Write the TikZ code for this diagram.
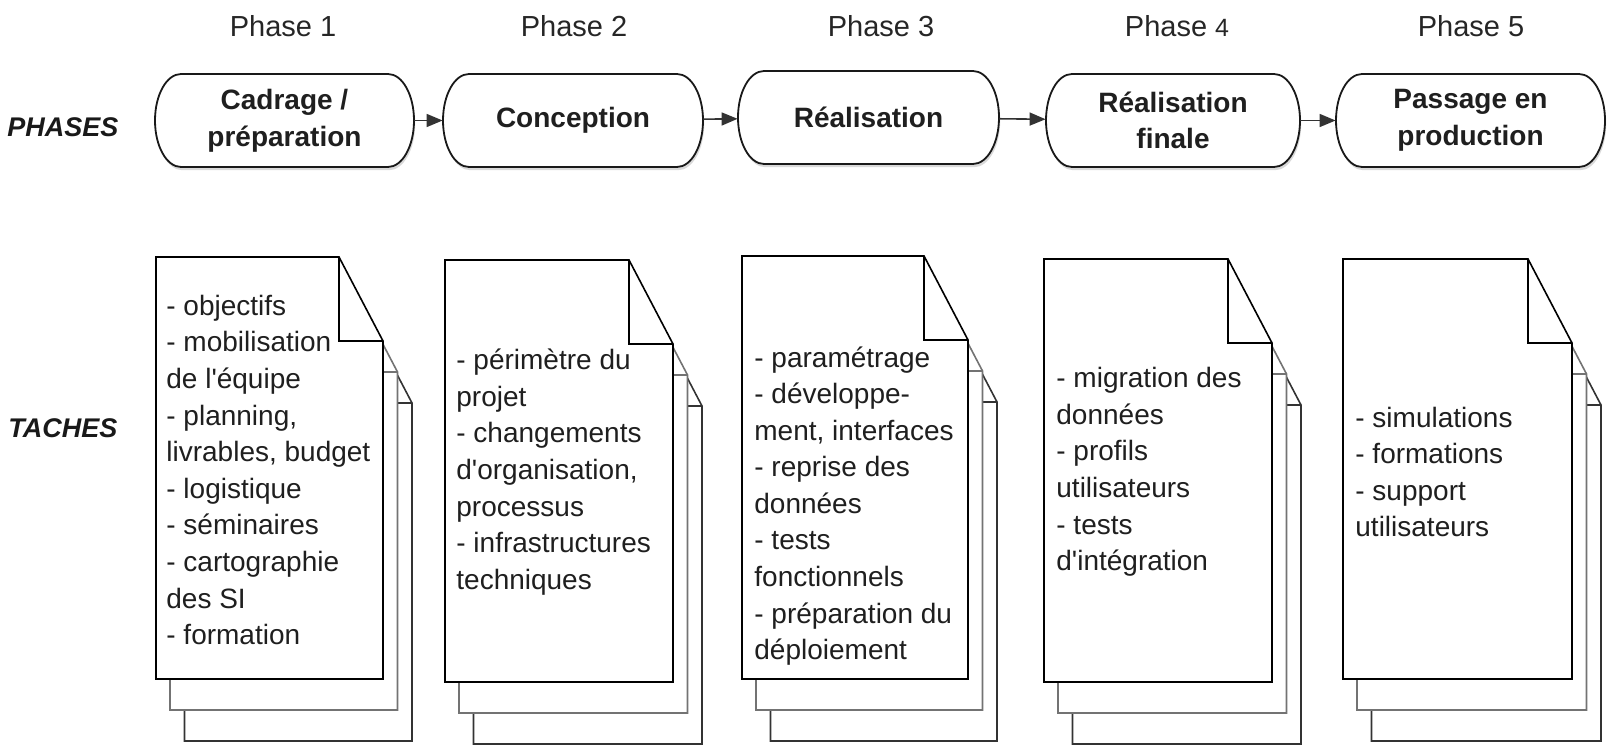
\documentclass[tikz,border=0pt]{standalone}
\usepackage{fontspec}
\setmainfont{Liberation Sans}
\usetikzlibrary{arrows.meta,shadows}
\newcommand\sq{\XeTeXglyph\XeTeXcharglyph"0027\relax}
% phase box: name, L, R, T, B, text
\newcommand\pbox[6]{%
  \draw[pboxline] (#2+26,-#4) -- (#3-26,-#4)
    arc[start angle=90,end angle=-90,x radius=13pt,y radius={(#5-#4)*0.25pt}]
    -- (#2+26,-#5)
    arc[start angle=270,end angle=90,x radius=13pt,y radius={(#5-#4)*0.25pt}]
    -- cycle;
  \node[ptext,minimum width={(#3-#2)*0.5pt},minimum height={(#5-#4)*0.5pt}] (#1) at ({(#2+#3)/2},{-(#4+#5)/2}) {#6};
}
% one page: style, L, T, R, B
\newcommand\docpage[5]{%
  \draw[#1] ({#2},{-(#3)}) -- ({#4-44},{-(#3)}) -- ({#4},{-(#3)-84}) -- ({#4},{-(#5)}) -- ({#2},{-(#5)}) -- cycle;
  \draw[#1,fill=none] ({#4-44},{-(#3)}) -- ({#4-44},{-(#3)-84}) -- ({#4},{-(#3)-84});
}
% stack: L, T, R, B
\newcommand\docstack[4]{%
  \docpage{page3}{#1+28.5}{#2+62}{#3+29}{#4+62}
  \docpage{page2}{#1+14}{#2+31}{#3+14.5}{#4+31}
  \docpage{page1}{#1}{#2}{#3}{#4}
}
\begin{document}
\begin{tikzpicture}[x=0.5pt,y=0.5pt,
  pboxline/.style={draw=black!90,line width=0.9pt,fill=white,
    drop shadow={opacity=0.3,shadow xshift=0.6pt,shadow yshift=-1.6pt}},
  ptext/.style={font=\fontsize{14}{18.3}\selectfont\bfseries,align=center,text=black!88,inner sep=0pt},
  phaselbl/.style={font=\fontsize{14.5}{17}\selectfont,text=black!85,inner sep=0pt},
  rowlbl/.style={font=\fontsize{13.5}{16}\selectfont\bfseries\itshape,text=black!90,inner sep=0pt},
  arr/.style={draw=black!80,line width=0.8pt,-{Triangle[length=8pt,width=6.5pt]}},
  doctext/.style={font=\fontsize{14}{18.3}\selectfont,align=left,anchor=west,inner sep=0pt,text=black!88},
  page1/.style={draw=black,line width=0.8pt,fill=white},
  page2/.style={draw=black!55,line width=0.8pt,fill=white},
  page3/.style={draw=black!80,line width=0.8pt,fill=white}]
\useasboundingbox (0,-747) rectangle (1612,0);

% phase labels
\node[phaselbl] (l1) at (283,-26) {Phase 1};
\node[phaselbl] (l2) at (574,-26) {Phase 2};
\node[phaselbl] (l3) at (881,-26) {Phase 3};
\node[phaselbl] (l4) at (1177,-26) {Phase {\fontsize{12.5}{14}\selectfont 4}};
\node[phaselbl] (l5) at (1471,-26) {Phase 5};

% row labels
\node[rowlbl] (rphases) at (63,-127) {PHASES};
\node[rowlbl] (rtaches) at (63,-428) {TACHES};

% phase boxes
\pbox{b1}{155}{414}{74}{167}{Cadrage /\\préparation}
\pbox{b2}{443}{703}{74}{167}{Conception}
\pbox{b3}{738}{999}{71}{164}{Réalisation}
\pbox{b4}{1046}{1300}{74}{167}{Réalisation\\finale}
\pbox{b5}{1336}{1605}{74}{167}{Passage en\\production}

\draw[arr] (b1) -- (b2);
\draw[arr] (b2) -- (b3);
\draw[arr] (b3) -- (b4);
\draw[arr] (b4) -- (b5);

% document stacks
\docstack{156}{257}{383}{679}
\docstack{445}{260}{673}{682}
\docstack{742}{256}{968}{679}
\docstack{1044}{259}{1272}{682}
\docstack{1343}{259}{1572}{679}

\node[doctext] (t1) at (166,-470) {- objectifs\\- mobilisation\\de l\sq équipe\\- planning,\\livrables, budget\\- logistique\\- séminaires\\- cartographie\\des SI\\- formation};
\node[doctext] (t2) at (456,-472) {- périmètre du\\projet\\- changements\\d\sq organisation,\\processus\\- infrastructures\\techniques};
\node[doctext] (t3) at (754,-506) {- paramétrage\\- développe-\\ment, interfaces\\- reprise des\\données\\- tests\\fonctionnels\\- préparation du\\déploiement};
\node[doctext] (t4) at (1056,-472) {- migration des\\données\\- profils\\utilisateurs\\- tests\\d\sq intégration};
\node[doctext] (t5) at (1355,-472) {- simulations\\- formations\\- support\\utilisateurs};
\end{tikzpicture}
\end{document}
